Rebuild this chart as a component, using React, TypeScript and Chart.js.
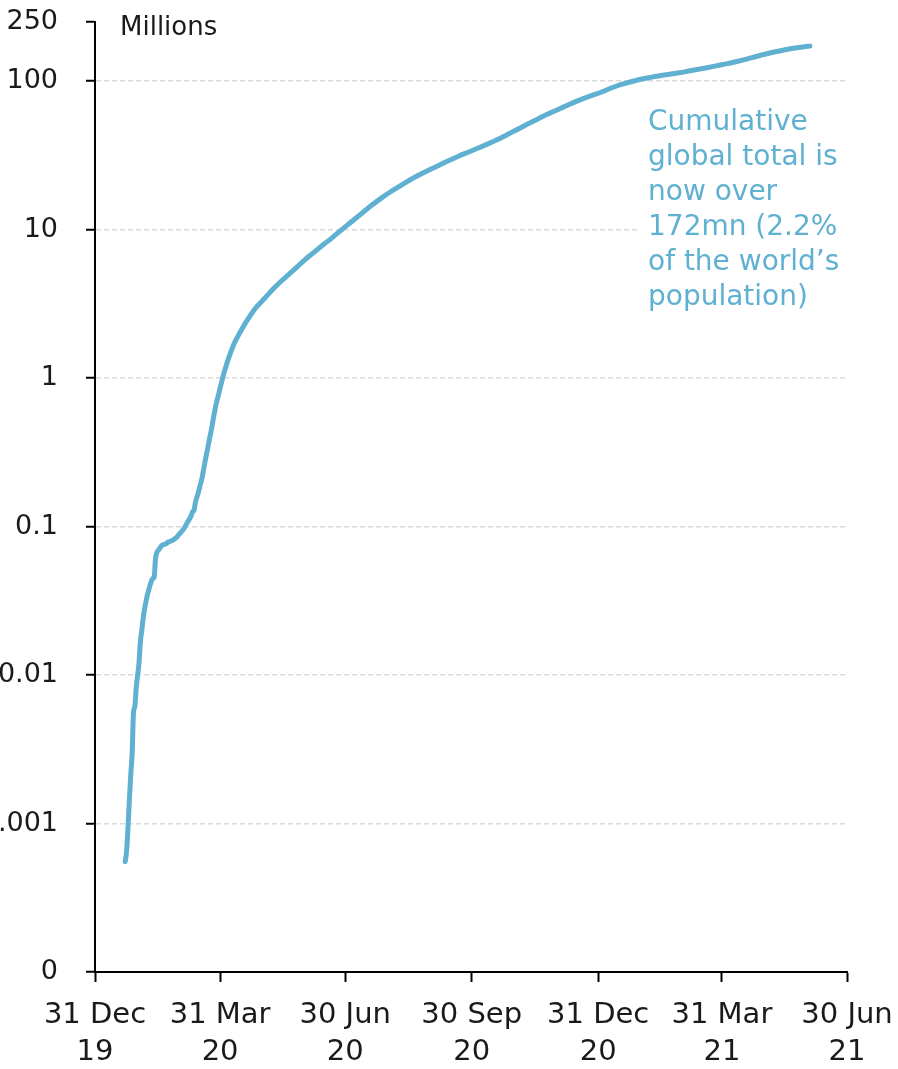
import React, { useEffect, useRef } from "react";
import { Chart, registerables } from "chart.js";

Chart.register(...registerables);

// Days counted from 31 Dec 2019
const dayOffsets = [
  22, 23, 24, 25, 26, 27, 28, 29, 30, 31, 32, 33, 34, 35, 36, 37, 38, 39, 40, 41, 42, 43, 44, 45, 46,
  47, 48, 49, 50, 51, 52, 53, 54, 55, 56, 57, 58, 59, 60, 61, 62, 63, 64, 65, 66, 67, 68, 69, 70, 71,
  72, 73, 74, 75, 76, 77, 78, 79, 80, 81, 82, 83, 84, 85, 86, 87, 88, 89, 90, 91, 92, 93, 94, 95, 97,
  99, 101, 104, 107, 111, 116, 121, 126, 131, 136, 141, 146, 152, 159, 166, 173, 180, 187, 194, 201,
  208, 215, 222, 229, 236, 243, 250, 257, 264, 271, 278, 285, 292, 299, 306, 313, 320, 327, 334, 341,
  348, 355, 362, 369, 376, 383, 390, 397, 404, 411, 418, 425, 432, 439, 446, 453, 460, 467, 474, 481,
  488, 495, 502, 509, 516, 520,
];

// Cumulative confirmed cases, millions
const casesMillions = [
  0.000555, 0.000654, 0.000941, 0.001434, 0.002118, 0.002927, 0.005578, 0.006166, 0.008234, 0.009927,
  0.012038, 0.016787, 0.019881, 0.023892, 0.027635, 0.030794, 0.034391, 0.03712, 0.04015, 0.042762,
  0.044802, 0.045221, 0.060368, 0.066885, 0.06903, 0.071224, 0.073258, 0.075136, 0.075639, 0.076197,
  0.076819, 0.078572, 0.078958, 0.079561, 0.080406, 0.081388, 0.082746, 0.084112, 0.086011, 0.088369,
  0.090306, 0.09284, 0.09512, 0.097886, 0.101801, 0.105847, 0.109821, 0.11359, 0.11862, 0.125875,
  0.128352, 0.145205, 0.156101, 0.167454, 0.181574, 0.197102, 0.214821, 0.24257, 0.272208, 0.304507,
  0.336953, 0.378231, 0.418041, 0.467653, 0.529591, 0.593291, 0.660693, 0.72014, 0.782389, 0.857487,
  0.932605, 1.013466, 1.095917, 1.17606, 1.346299, 1.511104, 1.691719, 1.91732, 2.151199, 2.472259,
  2.896746, 3.256846, 3.662691, 4.101699, 4.542347, 4.996472, 5.495061, 6.186, 6.997, 7.898, 8.9,
  10.08, 11.37, 12.86, 14.51, 16.23, 17.97, 19.72, 21.58, 23.37, 25.17, 27.03, 29.03, 31.08, 33.06,
  35.15, 37.48, 40.08, 43.17, 46.6, 50.47, 54.35, 58.67, 62.7, 67.01, 71.57, 76.27, 80.46, 84.77,
  90.19, 94.96, 99.0, 102.8, 105.9, 108.7, 111.2, 113.8, 116.9, 120.1, 123.5, 127.3, 131.1, 135.6,
  140.6, 146.4, 152.1, 157.5, 162.5, 166.9, 170.4, 172.0,
];

const xTickDays = [0, 91, 182, 274, 366, 456, 547];
const xTickLabels = [
  ["31 Dec", "19"],
  ["31 Mar", "20"],
  ["30 Jun", "20"],
  ["30 Sep", "20"],
  ["31 Dec", "20"],
  ["31 Mar", "21"],
  ["30 Jun", "21"],
];
const yTickValues = [0.0001, 0.001, 0.01, 0.1, 1, 10, 100, 250];
const yTickLabels = ["0", "0.001", "0.01", "0.1", "1", "10", "100", "250"];
const unitLabel = "Millions";
const noteLines = [
  "Cumulative",
  "global total is",
  "now over",
  "172mn (2.2%",
  "of the world\u2019s",
  "population)",
];

const FONT = '"DejaVu Sans", sans-serif';
const LINE_COLOR = "#5fb0d1";
const TEXT_COLOR = "#1a1a1a";

const notePlugin = {
  id: "noteText",
  beforeDatasetsDraw(chart: any) {
    const { ctx, chartArea } = chart;
    ctx.save();
    // white box behind annotation (hides gridline)
    const boxX = chartArea.right - 207;
    ctx.fillStyle = "#ffffff";
    ctx.fillRect(boxX, chartArea.top + 76, chart.width - boxX, 222);
    ctx.fillStyle = LINE_COLOR;
    ctx.font = `28px ${FONT}`;
    ctx.textAlign = "left";
    ctx.textBaseline = "alphabetic";
    noteLines.forEach((line, i) => {
      ctx.fillText(line, chartArea.right - 199, chartArea.top + 108 + i * 35);
    });
    ctx.fillStyle = TEXT_COLOR;
    ctx.font = `26px ${FONT}`;
    ctx.fillText(unitLabel, chartArea.left + 25, chartArea.top + 13);
    ctx.restore();
  },
};

export default function App() {
  const canvasRef = useRef<HTMLCanvasElement | null>(null);

  useEffect(() => {
    document.body.style.margin = "0";
    const canvas = canvasRef.current;
    if (!canvas) return;
    const chart = new Chart(canvas, {
      type: "line",
      data: {
        datasets: [
          {
            data: dayOffsets.map((d, i) => ({ x: d, y: casesMillions[i] })),
            borderColor: LINE_COLOR,
            borderWidth: 5,
            pointRadius: 0,
            fill: false,
            cubicInterpolationMode: "monotone",
            borderCapStyle: "round",
            borderJoinStyle: "round",
          },
        ],
      },
      options: {
        responsive: false,
        animation: false,
        devicePixelRatio: 1,
        layout: { autoPadding: false, padding: { top: 22, right: 51, bottom: 0, left: 0 } },
        plugins: { legend: { display: false }, tooltip: { enabled: false } },
        scales: {
          x: {
            type: "linear",
            min: 0,
            max: 547,
            afterBuildTicks: (s: any) => {
              s.ticks = xTickDays.map((v) => ({ value: v }));
            },
            afterFit: (s: any) => {
              s.height = 97;
              s.paddingLeft = 0;
              s.paddingRight = 0;
            },
            ticks: {
              autoSkip: false,
              maxRotation: 0,
              minRotation: 0,
              padding: 15,
              color: TEXT_COLOR,
              font: { family: FONT, size: 29, lineHeight: 1.28 },
              callback: (v: any) => xTickLabels[xTickDays.indexOf(Number(v))] ?? "",
            },
            grid: {
              drawOnChartArea: false,
              drawTicks: true,
              tickLength: 10,
              tickColor: "#000",
              tickWidth: 2,
            },
            border: { display: true, color: "#000", width: 2 },
          },
          y: {
            type: "logarithmic",
            min: 0.0001,
            max: 250,
            afterBuildTicks: (s: any) => {
              s.ticks = yTickValues.map((v) => ({ value: v }));
            },
            afterFit: (s: any) => {
              s.width = 95;
              s.paddingTop = 0;
              s.paddingBottom = 0;
            },
            ticks: {
              autoSkip: false,
              padding: 28,
              color: TEXT_COLOR,
              font: { family: FONT, size: 27 },
              callback: (v: any) => {
                const idx = yTickValues.findIndex((t) => Math.abs(t - Number(v)) < t * 1e-6);
                return idx >= 0 ? yTickLabels[idx] : "";
              },
            },
            grid: {
              color: (c: any) =>
                c.tick && (c.tick.value === 250 || c.tick.value === 0.0001)
                  ? "rgba(0,0,0,0)"
                  : "#d9d9d9",
              lineWidth: 1.5,
              drawTicks: true,
              tickLength: 9,
              tickColor: "#000",
              tickWidth: 2,
            },
            border: { display: true, color: "#000", width: 2, dash: [5, 3] },
          },
        },
      },
      plugins: [notePlugin],
    } as any);
    return () => chart.destroy();
  }, []);

  return (
    <div style={{ width: 898, height: 1069, overflow: "hidden", background: "#fff" }}>
      <canvas ref={canvasRef} width={898} height={1069} style={{ display: "block" }} />
    </div>
  );
}
